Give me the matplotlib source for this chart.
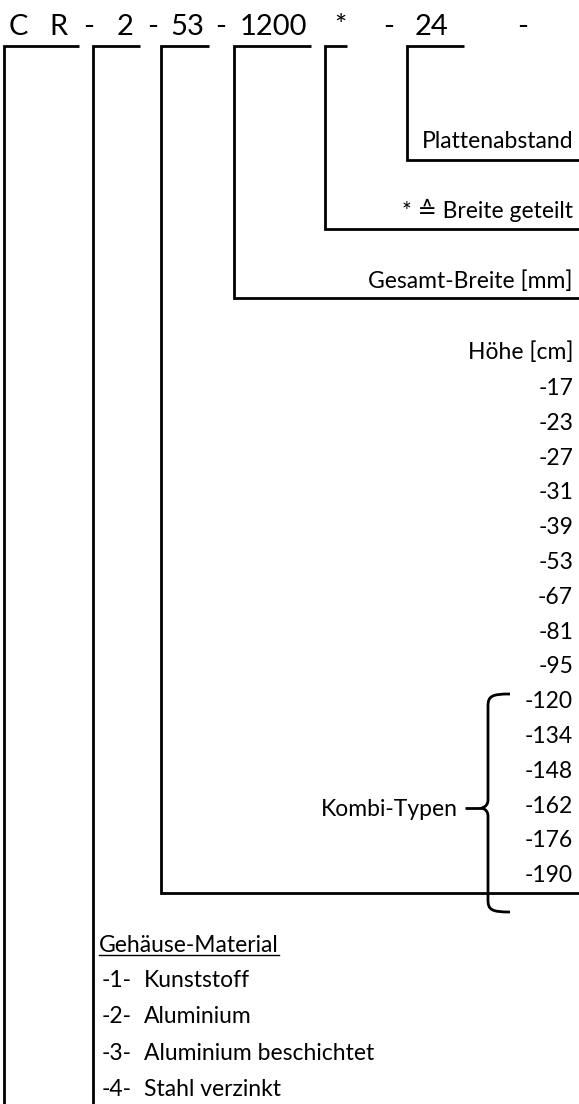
import matplotlib
matplotlib.use("Agg")
from matplotlib import pyplot as plt
from matplotlib.path import Path
from matplotlib.patches import PathPatch

plt.rcParams['font.family'] = ['Lato', 'DejaVu Sans']

# type code tokens and their centre positions (px)
code_tokens = ['C', 'R', '-', '2', '-', '53', '-', '1200', '*', '-', '24', '-']
code_x = [18.5, 58.5, 88.5, 125.5, 152.5, 187.5, 221, 273, 340.5, 388.5, 432, 522.5]

# right-hand labels with their bracket lines
field_labels = ['Plattenabstand', '* \u2259 Breite geteilt', 'Gesamt-Breite [mm]']
heights_title = 'Höhe [cm]'
heights = ['-17', '-23', '-27', '-31', '-39', '-53', '-67', '-81', '-95',
           '-120', '-134', '-148', '-162', '-176', '-190']
combi_label = 'Kombi-Typen'
material_title = 'Gehäuse-Material'
material_codes = ['-1-', '-2-', '-3-', '-4-']
material_names = ['Kunststoff', 'Aluminium', 'Aluminium beschichtet', 'Stahl verzinkt']

W, H = 579, 1104
fig = plt.figure(figsize=(W / 100, H / 100), dpi=100)
ax = fig.add_axes([0, 0, 1, 1])
ax.set_xlim(0, W)
ax.set_ylim(H, 0)
ax.axis('off')

lw = 2.0
kw = dict(color='black', lw=lw, solid_capstyle='butt', solid_joinstyle='miter')

# top code line
for tok, x in zip(code_tokens, code_x):
    ax.text(x, 35, tok, fontsize=21, ha='center', va='baseline')

top = 46
# brackets: (x_left, x_right of top stroke, y bottom)
ax.plot([4, 4, 79], [H, top, top], **kw)
ax.plot([93, 93, 140], [H, top, top], **kw)
ax.plot([579, 161, 161, 209], [893, 893, top, top], **kw)
ax.plot([579, 234, 234, 311], [298, 298, top, top], **kw)
ax.plot([579, 325, 325, 347], [229, 229, top, top], **kw)
ax.plot([579, 407, 407, 464], [160, 160, top, top], **kw)

fs = 16.5
rx = 573
for lab, y in zip(field_labels, [148, 218, 288]):
    ax.text(rx, y, lab, fontsize=fs, ha='right', va='baseline')

ax.text(rx, 359, heights_title, fontsize=fs, ha='right', va='baseline')
for i, h in enumerate(heights):
    ax.text(rx, 395 + i * 34.8, h, fontsize=fs, ha='right', va='baseline')

# curly brace for the combined types
bx, tip_y = 488, 808
verts = [(510, 694), (492, 694), (bx, 696), (bx, 706),
         (bx, tip_y - 8), (bx, tip_y - 2), (482, tip_y),
         (bx, tip_y + 2), (bx, tip_y + 8),
         (bx, 900), (bx, 910), (492, 912), (510, 912)]
codes = [Path.MOVETO, Path.CURVE4, Path.CURVE4, Path.CURVE4,
         Path.LINETO, Path.CURVE3, Path.CURVE3,
         Path.CURVE3, Path.CURVE3,
         Path.LINETO, Path.CURVE4, Path.CURVE4, Path.CURVE4]
ax.add_patch(PathPatch(Path(verts, codes), fill=False, lw=lw, ec='black'))
ax.plot([465, 482], [tip_y, tip_y], **kw)
ax.text(458, 816, combi_label, fontsize=fs, ha='right', va='baseline')

# housing material
t = ax.text(99, 952, material_title, fontsize=fs, ha='left', va='baseline')
fig.canvas.draw()
bb = t.get_window_extent().transformed(ax.transData.inverted())
ax.plot([99, bb.x1], [955, 955], color='black', lw=1.0)
for i, (c, n) in enumerate(zip(material_codes, material_names)):
    y = 987 + i * 36.3
    ax.text(102, y, c, fontsize=fs, ha='left', va='baseline')
    ax.text(144, y, n, fontsize=fs, ha='left', va='baseline')

fig.savefig('out.png', dpi=100)
